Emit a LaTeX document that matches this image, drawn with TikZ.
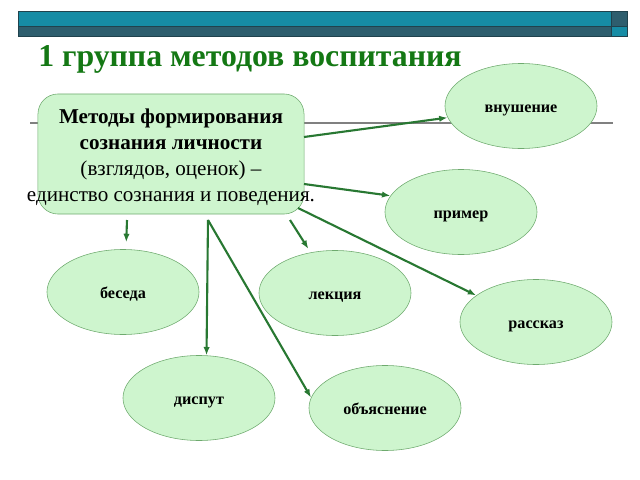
\documentclass[tikz,border=0pt]{standalone}
\usepackage{fontspec}
\setmainfont{Liberation Serif}
\usetikzlibrary{shapes.geometric}
\usetikzlibrary{arrows.meta}
\definecolor{bannerteal}{RGB}{22,140,165}
\definecolor{bannerdark}{RGB}{46,94,110}
\definecolor{nodefill}{RGB}{206,245,206}
\definecolor{nodeline}{RGB}{110,170,110}
\definecolor{arrowgreen}{RGB}{40,120,50}
\definecolor{titlegreen}{RGB}{20,120,20}
\tikzset{
    mynode/.style = {ellipse, draw=nodeline, fill=nodefill, minimum width=3.8cm, minimum height=2.125cm, text height=2ex, text depth=0pt, font=\bfseries\fontsize{11.5}{13}\selectfont},
    mybox/.style = {rectangle, rounded corners=0.5cm, draw=nodeline, fill=nodefill, minimum width=6.65cm, minimum height=3cm},
    edgen/.style = {-{Latex[length=6pt,width=4.5pt]}, line width=1.5pt, arrowgreen},
    ruleline/.style = {draw=gray, line width=1pt}
}

\begin{document}
\begin{tikzpicture}[x=0.025cm,y=-0.025cm]
\useasboundingbox (0,0) rectangle (640,480);
%
\fill[bannerteal] (18,11) rectangle (611,26);
\fill[bannerdark] (18,26) rectangle (611,36);
\fill[bannerdark] (611,11) rectangle (627,26);
\fill[bannerteal] (611,26) rectangle (627,36);
\draw[bannerdark!70!black, line width=0.6pt] (18,11) rectangle (627,36);
\draw[bannerdark!70!black, line width=0.6pt] (18,26) -- (627,26) (611,11) -- (611,36);
\node[anchor=base west, text=titlegreen, font=\bfseries\fontsize{22.6}{26}\selectfont, inner sep=0pt] at (38,66) (title) {1 группа методов воспитания};
\draw[ruleline] (30,123) -- (613,123);
%
\node[mybox] at (171,154) (box) {};
\node[align=center, font=\fontsize{15}{18.4}\selectfont] at (171,157) (boxtext) {\textbf{Методы формирования}\\ \textbf{сознания личности}\\ (взглядов, оценок) --\\ единство сознания и поведения.};
%
\node[mynode] at (521,106) (vnush) {внушение};
\node[mynode] at (461,212) (primer) {пример};
\node[mynode] at (123,292) (beseda) {беседа};
\node[mynode] at (335,293) (lekcia) {лекция};
\node[mynode] at (536,322) (rasskaz) {рассказ};
\node[mynode] at (199,398) (disput) {диспут};
\node[mynode] at (385,408) (obyas) {объяснение};
%
\coordinate (s1) at (304,137);
\coordinate (s2) at (304,184);
\coordinate (s3) at (127,220);
\coordinate (s4) at (208,220);
\coordinate (s5) at (290,220);
\coordinate (s6) at (298,208);
%
\draw[edgen] (s1) -- (vnush.189);
\draw[edgen] (s2) -- (primer.167);
\draw[edgen, shorten >=5pt] (s3) -- (beseda.86);
\draw[edgen] (s4) -- (disput.80);
\draw[edgen] (s4) -- (obyas.172);
\draw[edgen, shorten >=3pt] (s5) -- (lekcia.121);
\draw[edgen] (s6) -- (rasskaz.156);
\end{tikzpicture}
\end{document}
